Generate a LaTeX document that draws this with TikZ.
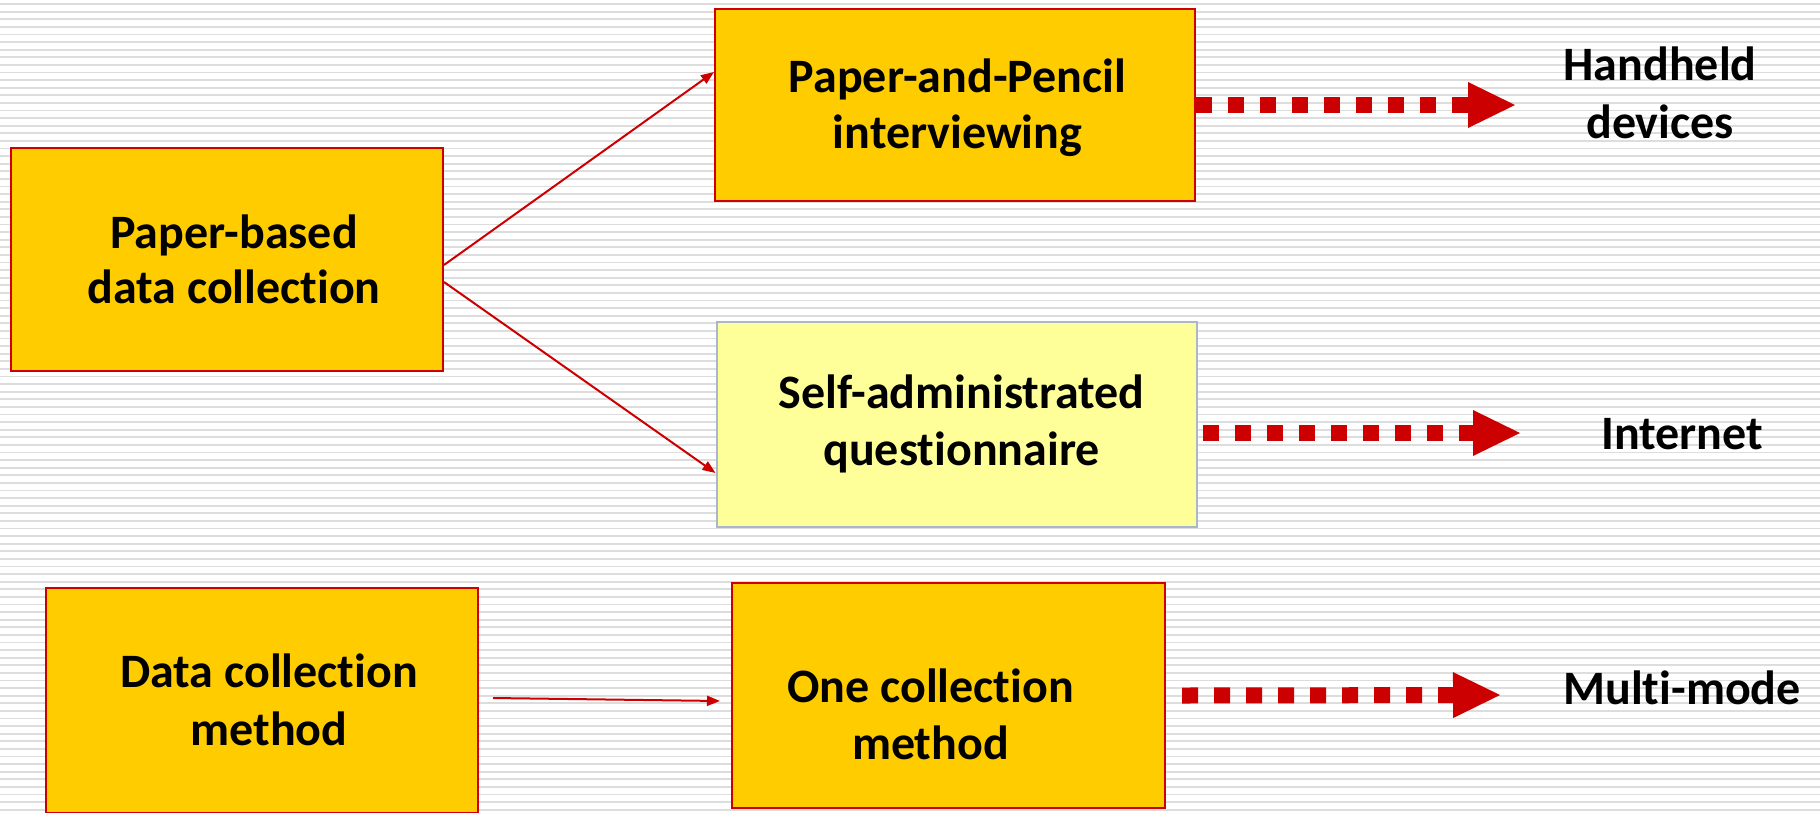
\documentclass[tikz,border=0pt]{standalone}
\usepackage{fontspec}
\setmainfont{Carlito}[Ligatures={NoCommon}]
\usetikzlibrary{arrows.meta}
\definecolor{gold}{HTML}{FFCC00}
\definecolor{darkred}{HTML}{CC0000}
\definecolor{paleyellow}{HTML}{FFFF99}
\definecolor{bluegray}{HTML}{A9B7CC}
\definecolor{stripe}{HTML}{DDDDDD}
\begin{document}
\begin{tikzpicture}[x=1pt,y=-1pt,
  ybox/.style={draw=darkred, line width=2pt, fill=gold, inner sep=0pt},
  lbox/.style={draw=bluegray, line width=2pt, fill=paleyellow, inner sep=0pt},
  txt/.style={anchor=base, font=\fontsize{48}{57}\selectfont\bfseries, inner sep=0pt},
  thinarrow/.style={draw=darkred, line width=2pt, -{Triangle[length=13pt,width=10pt]}},
  dotarrow/.style={draw=darkred, line width=16pt, dash pattern=on 16pt off 16pt,
    -{Triangle[length=47pt,width=46pt,line width=0pt]}},
  bgline/.style={draw=stripe, line width=1.8pt}]
\useasboundingbox (0,0) rectangle (1820,812);
\clip (0,0) rectangle (1820,812);
\fill[white] (0,0) rectangle (1820,812);
\foreach \k in {0,...,106} {\draw[bgline] (0,{4+7.6*\k}) -- (1820,{4+7.6*\k});}

% boxes
\node[ybox, minimum width=432pt, minimum height=223pt] (pb) at (227,259.5) {};
\node[ybox, minimum width=480pt, minimum height=192pt] (ppi) at (955,105) {};
\node[lbox, minimum width=480pt, minimum height=205pt] (sa) at (956.5,424.5) {};
\node[ybox, minimum width=432pt, minimum height=225pt] (dcm) at (262,700.5) {};
\node[ybox, minimum width=433pt, minimum height=225pt] (ocm) at (948.5,695.5) {};

% box texts
\node[txt] (pb1) at (234,248) {Paper-based};
\node[txt] (pb2) at (234,303) {data collection};
\node[txt] (ppi1) at (957.5,92) {Paper-and-Pencil};
\node[txt] (ppi2) at (957.5,148) {interviewing};
\node[txt] (sa1) at (961.5,408) {Self-administrated};
\node[txt] (sa2) at (961.5,465) {questionnaire};
\node[txt] (dcm1) at (269,687) {Data collection};
\node[txt] (dcm2) at (269,745) {method};
\node[txt] (ocm1) at (930.5,702) {One collection};
\node[txt] (ocm2) at (930.5,759) {method};

% outcome labels
\node[txt] (hh1) at (1660,80) {Handheld};
\node[txt] (hh2) at (1660,138) {devices};
\node[txt] (inet) at (1682,449) {Internet};
\node[txt] (mm) at (1682,704) {Multi-mode};

% tips of the dotted arrows
\coordinate (t1) at (1515,105);
\coordinate (t2) at (1520,433);
\coordinate (t3) at (1500,695);

% thin connectors
\draw[thinarrow] ([yshift=-5.5pt]pb.east) -- ([yshift=33pt]ppi.west);
\draw[thinarrow] ([yshift=-22.5pt]pb.east) -- ([yshift=-48.5pt]sa.west);
\draw[thinarrow] ([xshift=14pt,yshift=2.5pt]dcm.east) -- ([xshift=-11pt,yshift=-5.5pt]ocm.west);

% dotted arrows
\draw[dotarrow] (ppi.east) -- (t1);
\draw[dotarrow] ([xshift=5.5pt,yshift=-8.5pt]sa.east) -- (t2);
\draw[dotarrow] ([xshift=16pt]ocm.east) -- (t3);
\end{tikzpicture}
\end{document}
